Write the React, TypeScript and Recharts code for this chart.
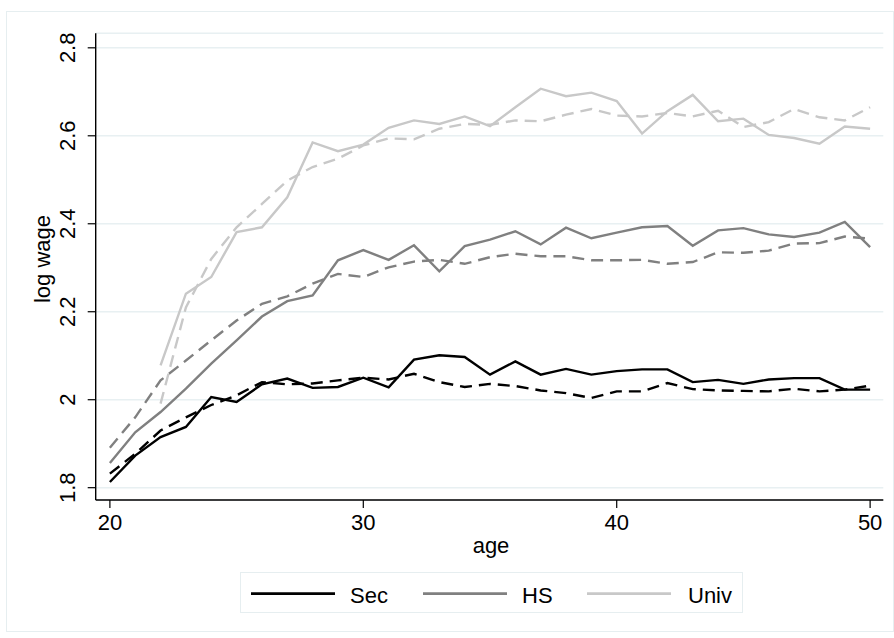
import React from 'react';
import { LineChart, Line, XAxis, YAxis, CartesianGrid } from 'recharts';

const ages = [20, 21, 22, 23, 24, 25, 26, 27, 28, 29, 30, 31, 32, 33, 34, 35, 36, 37, 38, 39, 40, 41, 42, 43, 44, 45, 46, 47, 48, 49, 50];

const secActual = [1.813, 1.873, 1.915, 1.938, 2.006, 1.995, 2.035, 2.048, 2.027, 2.029, 2.05, 2.028, 2.091, 2.101, 2.097, 2.057, 2.087, 2.057, 2.07, 2.057, 2.065, 2.069, 2.069, 2.04, 2.045, 2.036, 2.046, 2.049, 2.049, 2.023, 2.023];
const secFitted = [1.832, 1.877, 1.93, 1.96, 1.988, 2.01, 2.04, 2.035, 2.037, 2.044, 2.05, 2.046, 2.059, 2.04, 2.029, 2.036, 2.031, 2.021, 2.015, 2.004, 2.019, 2.019, 2.038, 2.024, 2.021, 2.02, 2.019, 2.025, 2.019, 2.023, 2.032];

const hsActual = [1.856, 1.926, 1.972, 2.025, 2.082, 2.135, 2.189, 2.224, 2.237, 2.317, 2.34, 2.318, 2.351, 2.292, 2.349, 2.364, 2.383, 2.353, 2.391, 2.367, 2.38, 2.392, 2.395, 2.35, 2.385, 2.39, 2.376, 2.37, 2.38, 2.404, 2.347];
const hsFitted = [1.891, 1.96, 2.044, 2.089, 2.135, 2.18, 2.218, 2.235, 2.264, 2.286, 2.279, 2.301, 2.314, 2.318, 2.309, 2.324, 2.332, 2.326, 2.326, 2.317, 2.317, 2.318, 2.309, 2.313, 2.335, 2.334, 2.339, 2.355, 2.356, 2.371, 2.366];

const univActual = [null, null, 2.078, 2.241, 2.279, 2.381, 2.392, 2.46, 2.585, 2.565, 2.58, 2.618, 2.635, 2.627, 2.644, 2.622, 2.665, 2.707, 2.69, 2.698, 2.679, 2.605, 2.656, 2.693, 2.633, 2.639, 2.602, 2.595, 2.582, 2.621, 2.616];
const univFitted = [null, null, 1.991, 2.21, 2.32, 2.392, 2.445, 2.498, 2.529, 2.548, 2.578, 2.594, 2.592, 2.616, 2.627, 2.625, 2.635, 2.633, 2.648, 2.661, 2.646, 2.644, 2.652, 2.644, 2.657, 2.62, 2.631, 2.661, 2.642, 2.635, 2.665];

const xTicks = [20, 30, 40, 50];
const yTicks = [1.8, 2, 2.2, 2.4, 2.6, 2.8];

const seriesNames = ['Sec', 'HS', 'Univ'];
const seriesColors = ['#000000', '#808080', '#c8c8c8'];

const data = ages.map((a, i) => ({
  age: a,
  secA: secActual[i],
  secF: secFitted[i],
  hsA: hsActual[i],
  hsF: hsFitted[i],
  univA: univActual[i],
  univF: univFitted[i],
}));

const FONT = '"Liberation Sans", Arial, Helvetica, sans-serif';
const FS = 22;

const YTick = (props: any) => {
  const { x, y, payload } = props;
  return (
    <text x={x} y={y} transform={`rotate(-90, ${x}, ${y})`} textAnchor="middle" fontSize={FS} fontFamily={FONT} fill="#000">
      {String(payload.value)}
    </text>
  );
};

const XTick = (props: any) => {
  const { x, y, payload } = props;
  return (
    <text x={x} y={y} dy={FS * 0.71} textAnchor="middle" fontSize={FS} fontFamily={FONT} fill="#000">
      {String(payload.value)}
    </text>
  );
};

const legendLayout = [
  { lineX: 250, textX: 349 },
  { lineX: 422, textX: 521 },
  { lineX: 586, textX: 687 },
];

export default function App() {
  const dash = '12 7';
  const sw = 2.4;
  return (
    <div style={{ position: 'absolute', left: 0, top: 0, width: 894, height: 638, background: '#fff', fontFamily: FONT }}>
      <div style={{ position: 'absolute', left: 6, top: 11, width: 888, height: 621, border: '1px solid #e6eef0', boxSizing: 'border-box' }} />
      <LineChart width={894} height={638} data={data} margin={{ top: 33.3, right: 10.7, bottom: 88, left: 35.7 }} style={{ position: 'absolute', left: 0, top: 0 }}>
        <CartesianGrid vertical={false} stroke="#e8f0f2" strokeWidth={1.5} />
        <XAxis
          dataKey="age"
          type="number"
          domain={[19.44, 50.52]}
          ticks={xTicks}
          allowDataOverflow
          height={50}
          tickSize={8}
          tickMargin={6}
          axisLine={{ stroke: '#000', strokeWidth: 1.4 }}
          tickLine={{ stroke: '#000', strokeWidth: 1.2 }}
          tick={<XTick />}
          label={{
            content: () => (
              <text x={491} y={553} textAnchor="middle" fontSize={FS} fontFamily={FONT} fill="#000">age</text>
            ),
          }}
        />
        <YAxis
          type="number"
          domain={[1.772, 2.833]}
          ticks={yTicks}
          allowDataOverflow
          width={60}
          tickSize={8}
          tickMargin={12.7}
          axisLine={{ stroke: '#000', strokeWidth: 1.4 }}
          tickLine={{ stroke: '#000', strokeWidth: 1.2 }}
          tick={<YTick />}
          label={{
            content: () => (
              <text x={50} y={259} transform="rotate(-90, 50, 259)" textAnchor="middle" fontSize={FS} fontFamily={FONT} fill="#000">log wage</text>
            ),
          }}
        />
        <Line dataKey="univF" stroke={seriesColors[2]} strokeWidth={sw} strokeDasharray={dash} dot={false} isAnimationActive={false} />
        <Line dataKey="univA" name={seriesNames[2]} stroke={seriesColors[2]} strokeWidth={sw} dot={false} isAnimationActive={false} />
        <Line dataKey="hsF" stroke={seriesColors[1]} strokeWidth={sw} strokeDasharray={dash} dot={false} isAnimationActive={false} />
        <Line dataKey="hsA" name={seriesNames[1]} stroke={seriesColors[1]} strokeWidth={sw} dot={false} isAnimationActive={false} />
        <Line dataKey="secF" stroke={seriesColors[0]} strokeWidth={sw} strokeDasharray={dash} dot={false} isAnimationActive={false} />
        <Line dataKey="secA" name={seriesNames[0]} stroke={seriesColors[0]} strokeWidth={sw} dot={false} isAnimationActive={false} />
      </LineChart>
      <div style={{ position: 'absolute', left: 240, top: 572, width: 503, height: 41, border: '1px solid #e6eef0', boxSizing: 'border-box', background: '#fff' }}>
        <svg width={503} height={41} style={{ position: 'absolute', left: 0, top: 0 }}>
          {seriesNames.map((n, i) => (
            <g key={n}>
              <line x1={legendLayout[i].lineX - 240} x2={legendLayout[i].lineX - 240 + 84} y1={20.7} y2={20.7} stroke={seriesColors[i]} strokeWidth={2.8} />
              <text x={legendLayout[i].textX - 240} y={29.5} fontSize={FS} fontFamily={FONT} fill="#000">{n}</text>
            </g>
          ))}
        </svg>
      </div>
    </div>
  );
}
